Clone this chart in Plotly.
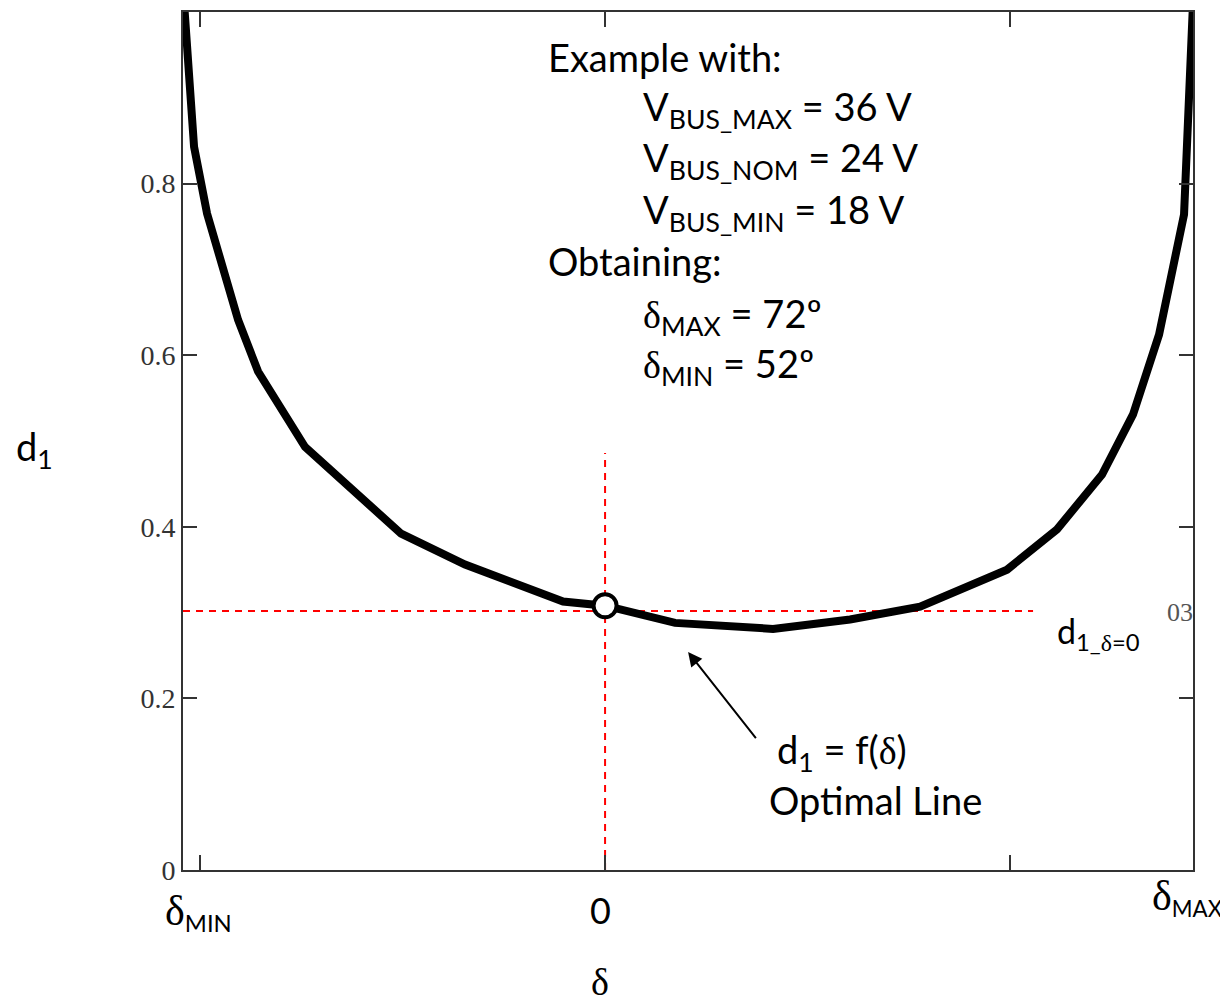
import plotly.graph_objects as go

# Data (delta in degrees, d1 duty)
delta = [-54.06, -52.78, -51.11, -47.12, -44.56, -38.52, -26.19, -17.98, -5.39, 0.0,
         8.99, 21.57, 31.46, 40.45, 51.62, 58.04, 63.82, 67.80, 71.14, 74.35, 75.5]
d1 = [1.01, 0.843, 0.765, 0.641, 0.581, 0.493, 0.392, 0.356, 0.313, 0.308,
      0.288, 0.281, 0.292, 0.307, 0.350, 0.397, 0.461, 0.531, 0.624, 0.764, 1.01]

d1_delta0 = 0.302
ref_h_x = [-54.2, 54.96]
ref_v_y = [0.0, 0.486]
point_x = [0.0]
point_y = [0.308]

y_ticks = [0, 0.2, 0.4, 0.6, 0.8]
y_ticklabels = ["0", "0.2", "0.4", "0.6", "0.8"]
x_ticks = [-52, 0, 52]

SANS = "Lato"
SERIF = "Liberation Serif"
TXT = 38

fig = go.Figure()

fig.add_trace(go.Scatter(x=ref_h_x, y=[d1_delta0, d1_delta0], mode="lines",
                         line=dict(color="#ff0000", width=2, dash="7px,6px"),
                         hoverinfo="skip", showlegend=False))
fig.add_trace(go.Scatter(x=[0, 0], y=ref_v_y, mode="lines",
                         line=dict(color="#ff0000", width=2, dash="7px,6px"),
                         hoverinfo="skip", showlegend=False))
fig.add_trace(go.Scatter(x=delta, y=d1, mode="lines",
                         line=dict(color="black", width=8),
                         showlegend=False))
fig.add_trace(go.Scatter(x=point_x, y=point_y, mode="markers",
                         marker=dict(size=23, color="white", line=dict(color="black", width=4)),
                         showlegend=False, cliponaxis=False))

d = f'<span style="font-family:{SERIF}">δ</span>'
dbig = f'<span style="font-family:{SERIF};font-size:42px">δ</span>'

ann = []
def text(x, y, s, size=TXT, xanchor="left", font=SANS, color="black"):
    ann.append(dict(x=x, y=y, xref="paper", yref="paper", text=s, showarrow=False,
                    xanchor=xanchor, yanchor="middle",
                    font=dict(family=font, size=size, color=color)))

# page is offset by the 8px body margin
OFF = 8
W, H = 1228 - OFF, 1003 - OFF
L, R, T, B = 183, 1193, 10, 870  # plot area in page pixels
def px(xp): return (xp - L) / (R - L)
def py(yp): return (B - yp) / (B - T)

text(px(546), py(55), "Example with:")
text(px(641), py(107), "V<sub>BUS_MAX</sub> = 36 V")
text(px(641), py(158), "V<sub>BUS_NOM</sub> = 24 V")
text(px(641), py(210), "V<sub>BUS_MIN</sub> = 18 V")
text(px(546), py(260), "Obtaining:")
text(px(641), py(315), d + "<sub>MAX</sub> = 72º")
text(px(641), py(365), d + "<sub>MIN</sub> = 52º")
text(px(14), py(448), "d<sub>1</sub>")
text(px(1055), py(632), "d<sub>1_" + d + "=0</sub>", size=34)
text(px(775), py(752), "d<sub>1</sub> = f(" + d + ")")
text(px(767), py(800), "Optimal Line")
text(px(163), py(913), dbig + "<sub>MIN</sub>", size=34)
text(px(600), py(910), "0", xanchor="center", font=SANS, size=36)
text(px(1150), py(898), dbig + "<sub>MAX</sub>", size=32)
text(px(600), py(982), "δ", xanchor="center", font=SERIF, size=38)
text(px(1165), py(612), "03", size=26, font=SERIF, color="#555")

# arrow pointing to the curve
ann.append(dict(x=10.66, y=0.254, ax=19.52, ay=0.152, xref="x", yref="y",
                axref="x", ayref="y", text="", showarrow=True,
                arrowhead=2, arrowsize=1.4, arrowwidth=2, arrowcolor="black"))

fig.update_layout(
    width=W, height=H,
    margin=dict(l=L - OFF, r=1228 - R, t=T - OFF, b=1003 - B),
    plot_bgcolor="white", paper_bgcolor="white",
    annotations=ann,
    xaxis=dict(range=[-54.2, 75.5], tickvals=x_ticks, showticklabels=False,
               ticks="inside", ticklen=15, tickwidth=2, tickcolor="#333",
               showline=True, linecolor="#333", linewidth=2, mirror="allticks",
               showgrid=False, zeroline=False),
    yaxis=dict(range=[0, 1.0], tickvals=y_ticks, ticktext=y_ticklabels,
               ticks="inside", ticklen=14, tickwidth=2, tickcolor="#333",
               showline=True, linecolor="#333", linewidth=2, mirror="allticks",
               showgrid=False, zeroline=False,
               tickfont=dict(family=SERIF, size=28, color="#333")),
)

fig.write_html("out.html")
